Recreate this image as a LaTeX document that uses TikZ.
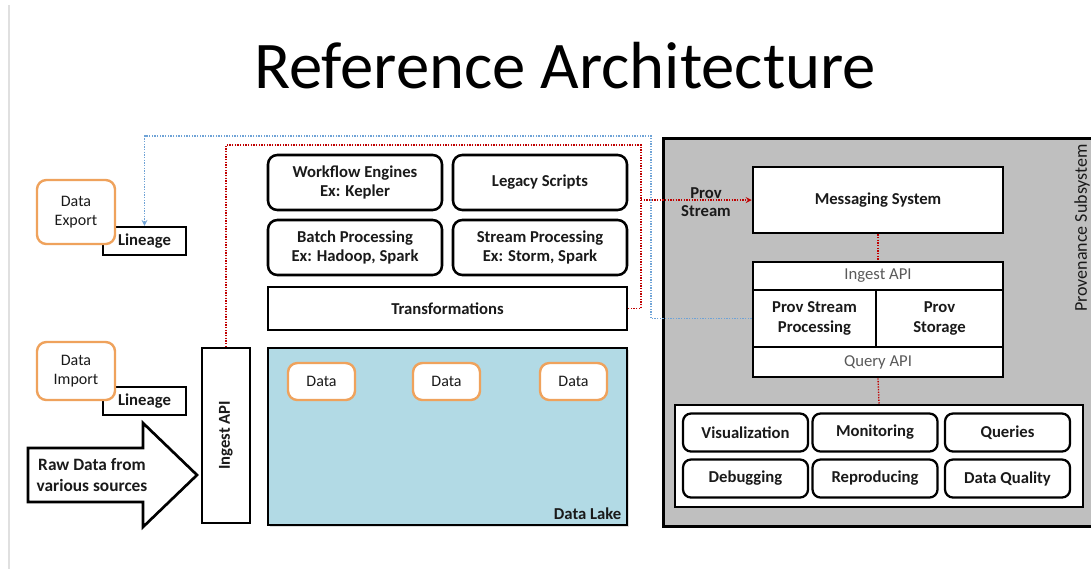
\documentclass[tikz,border=0pt]{standalone}
\usepackage{fontspec}
\setmainfont{Carlito}
\usepackage{tikz}
\usetikzlibrary{positioning,shadows}
\definecolor{RefOrange}{HTML}{EFA25C}
\definecolor{RefLake}{HTML}{B2DAE5}
\definecolor{RefGray}{HTML}{BFBFBF}
\definecolor{RefRed}{HTML}{C00000}
\definecolor{RefBlue}{HTML}{6FA3D6}
\definecolor{RefText}{HTML}{1A1A1A}

\begin{document}
\begin{tikzpicture}[x=0.75pt,y=-0.75pt,>=stealth,text=RefText]
  \tikzstyle{datbox}=[draw=RefOrange,line width=1.8pt,fill=white,rounded corners=7pt,
    align=center,font=\fontsize{12}{14.5}\selectfont]
  \tikzstyle{linbox}=[draw,line width=1.6pt,fill=white,minimum width=62pt,minimum height=21pt,
    font=\bfseries\fontsize{12.5}{14}\selectfont]
  \tikzstyle{engbox}=[draw,line width=1.9pt,fill=white,rounded corners=7pt,align=center,
    minimum width=130.5pt,minimum height=41.25pt,font=\bfseries\fontsize{12.5}{14.5}\selectfont]
  \tikzstyle{sqbox}=[draw,line width=1.9pt,fill=white,align=center,
    font=\bfseries\fontsize{12.5}{14.5}\selectfont]
  \tikzstyle{apibox}=[draw,line width=1.9pt,fill=white,minimum width=187.5pt,
    font=\fontsize{12.5}{14}\selectfont,text=black!65]
  \tikzstyle{appbox}=[draw,line width=1.7pt,fill=white,rounded corners=6pt,
    minimum width=93.75pt,minimum height=28.5pt,font=\bfseries\fontsize{12.5}{14}\selectfont]
  \tikzstyle{redline}=[RefRed,densely dotted,line width=1pt]
  \tikzstyle{blueline}=[RefBlue,densely dotted,line width=1pt]
  \clip (0,0) rectangle (1091,569);
  \fill[white] (0,0) rectangle (1091,569);
  \draw[black!12,line width=1pt] (9,5) -- (9,569);

  \node[font=\fontsize{50}{56}\selectfont,text=black] (title) at (565,66) {Reference Architecture};

  % provenance subsystem
  \node[draw,line width=1.9pt,fill=RefGray,minimum width=330pt,minimum height=291pt,
    anchor=north west,drop shadow={opacity=0.25,shadow xshift=1.5pt,shadow yshift=-1.5pt}] (prov) at (662,137) {};
  \node[rotate=90,font=\fontsize{13.5}{15}\selectfont] (provl) at (1082,228) {Provenance Subsystem};
  \node[sqbox,minimum width=187.5pt,minimum height=49.5pt] (msg) at (878,200) {Messaging System};
  \node[apibox,minimum height=21pt] (pin) at (878,276) {Ingest API};
  \node[sqbox,minimum width=92.25pt,minimum height=42.75pt] (psp) at (814.5,318.5) {Prov Stream\\Processing};
  \node[sqbox,minimum width=95.25pt,minimum height=42.75pt] (pst) at (939.5,318.5) {Prov\\Storage};
  \node[apibox,minimum height=22.5pt] (pqa) at (878,362) {Query API};
  \node[draw,line width=1.9pt,fill=white,minimum width=306pt,minimum height=76.5pt] (apps) at (879,456) {};
  \node[appbox] (vis) at (745.5,432.5) {Visualization};
  \node[appbox] (mon) at (875,432.5) {Monitoring};
  \node[appbox] (qry) at (1007.5,432.5) {Queries};
  \node[appbox] (dbg) at (745.5,478.5) {Debugging};
  \node[appbox] (rep) at (875,478.5) {Reproducing};
  \node[appbox] (dq) at (1007.5,478.5) {Data Quality};

  % processing layer
  \node[engbox] (wf) at (355,182.5) {Workflow Engines\\Ex: Kepler};
  \node[engbox] (leg) at (540,182.5) {Legacy Scripts};
  \node[engbox] (bat) at (355,247.5) {Batch Processing\\Ex: Hadoop, Spark};
  \node[engbox] (str) at (540,247.5) {Stream Processing\\Ex: Storm, Spark};
  \node[sqbox,minimum width=269.25pt,minimum height=32.25pt] (trans) at (447.5,308.5) {Transformations};

  % data lake
  \node[draw,line width=1.9pt,fill=RefLake,minimum width=269.25pt,minimum height=132.75pt,
    drop shadow={opacity=0.25,shadow xshift=1.5pt,shadow yshift=-1.5pt}] (lake) at (447.5,436.5) {};
  \node[font=\bfseries\fontsize{12.5}{14}\selectfont,anchor=south east,inner sep=5pt] (lakel) at (lake.south east) {Data Lake};
  \node[datbox,minimum width=50.25pt,minimum height=27.75pt] (d1) at (321.5,381.5) {Data};
  \node[datbox,minimum width=50.25pt,minimum height=27.75pt] (d2) at (446.5,381.5) {Data};
  \node[datbox,minimum width=50.25pt,minimum height=27.75pt] (d3) at (573.5,381.5) {Data};

  % left side
  \node[draw,line width=1.9pt,fill=white,minimum width=36pt,minimum height=131pt] (ing) at (226,435.5) {};
  \node[rotate=90,font=\bfseries\fontsize{12.5}{14}\selectfont] (ingl) at (ing.center) {Ingest API};
  \node[linbox] (lin1) at (144.5,241) {Lineage};
  \node[linbox] (lin2) at (144.5,401) {Lineage};
  \node[datbox,minimum width=58.5pt,minimum height=48pt] (exp) at (76,212) {Data\\Export};
  \node[datbox,minimum width=58.5pt,minimum height=43.5pt] (imp) at (76,371) {Data\\Import};
  \draw[line width=2pt,fill=white,line join=miter]
    (28,448) -- (143,448) -- (143,423) -- (197,475) -- (143,527) -- (143,502) -- (28,502) -- cycle;
  \node[align=center,font=\bfseries\fontsize{13}{15.5}\selectfont] (raw) at (92,475) {Raw Data from\\various sources};

  % provenance connectors
  \coordinate (rc) at (641,145);
  \coordinate (bc) at (651,136);
  \draw[blueline,->] (psp.west) -| (bc) -| (lin1.north);
  \draw[redline] (ing.north) |- (rc) |- (trans.east);
  \draw[redline,->] (rc |- msg.west) -- (msg.west);
  \node[align=center,font=\bfseries\fontsize{12.5}{14}\selectfont] (ps) at (706,202) {Prov\\Stream};
  \draw[redline] (msg.south) -- (pin.north);
  \draw[redline] (pqa.south) -- (apps.north);
\end{tikzpicture}
\end{document}
